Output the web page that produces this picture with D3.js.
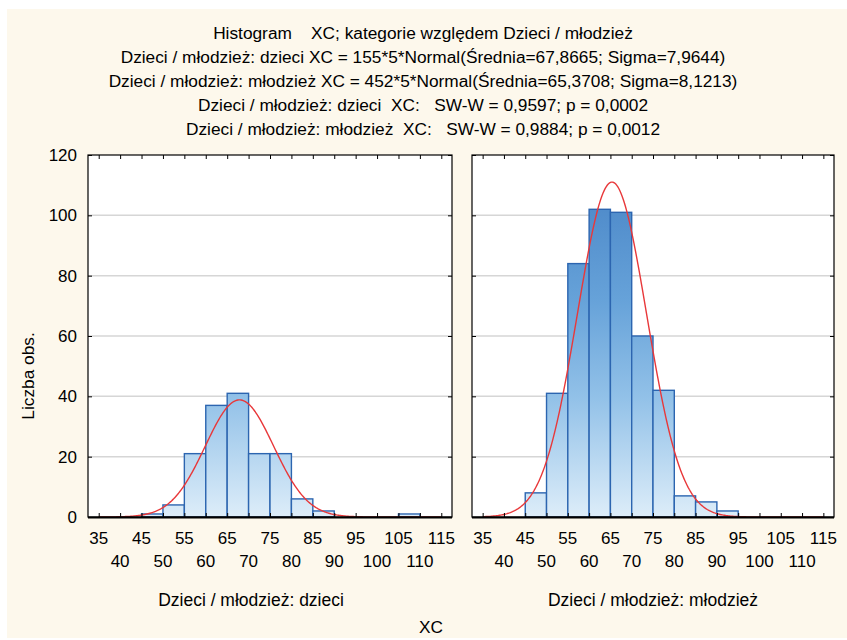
<!DOCTYPE html>
<html>
<head>
<meta charset="utf-8">
<script src="https://cdn.jsdelivr.net/npm/d3@7"></script>
<style>
  body { margin: 0; background: #ffffff; }
  text { font-family: Arial, "Liberation Sans", sans-serif; fill: #000; white-space: pre; }
</style>
</head>
<body>
<div id="chart"></div>
<script>

// chart data
var titleLines = [
  "Histogram    XC; kategorie względem Dzieci / młodzież",
  "Dzieci / młodzież: dzieci XC = 155*5*Normal(Średnia=67,8665; Sigma=7,9644)",
  "Dzieci / młodzież: młodzież XC = 452*5*Normal(Średnia=65,3708; Sigma=8,1213)",
  "Dzieci / młodzież: dzieci  XC:   SW-W = 0,9597; p = 0,0002",
  "Dzieci / młodzież: młodzież  XC:   SW-W = 0,9884; p = 0,0012"
];
var binStarts = [35, 40, 45, 50, 55, 60, 65, 70, 75, 80, 85, 90, 95, 100, 105, 110];
var countsDzieci = [0, 0, 1, 4, 21, 37, 41, 21, 21, 6, 2, 0, 0, 0, 1, 0];
var countsMlodziez = [0, 0, 8, 41, 84, 102, 101, 60, 42, 7, 5, 2, 0, 0, 0, 0];
var panelNames = ["Dzieci / młodzież: dzieci", "Dzieci / młodzież: młodzież"];
var panelN = [155, 452];
var panelMean = [67.8665, 65.3708];
var panelSigma = [7.9644, 8.1213];
var xTicks = [35, 40, 45, 50, 55, 60, 65, 70, 75, 80, 85, 90, 95, 100, 105, 110, 115];
var yTicks = [0, 20, 40, 60, 80, 100, 120];
var binWidth = 5;

var width = 847, height = 640;

var svg = d3.select("#chart")
  .append("svg")
    .attr("width", width)
    .attr("height", height);

// cream background
svg.append("rect")
  .attr("x", 7).attr("y", 9)
  .attr("width", width - 7).attr("height", height - 11)
  .attr("fill", "#fdf8ec");

// bar gradient, fixed to the plot height
var defs = svg.append("defs");
var grad = defs.append("linearGradient")
  .attr("id", "barGrad")
  .attr("gradientUnits", "userSpaceOnUse")
  .attr("x1", 0).attr("x2", 0)
  .attr("y1", 155).attr("y2", 517);
grad.append("stop").attr("offset", 0).attr("stop-color", "#4480c3");
grad.append("stop").attr("offset", 0.4).attr("stop-color", "#66a2d9");
grad.append("stop").attr("offset", 0.67).attr("stop-color", "#92c1e8");
grad.append("stop").attr("offset", 1).attr("stop-color", "#ddedf9");

// titles
svg.append("g")
  .selectAll("text")
  .data(titleLines)
  .enter()
  .append("text")
    .attr("x", 423)
    .attr("y", function(d, i) { return 38.5 + i * 24; })
    .attr("text-anchor", "middle")
    .style("font-size", "17.3px")
    .text(function(d) { return d; });

var y_scale = d3.scaleLinear()
  .domain([0, 120])
  .range([517, 155]);

var panels = [
  {left: 88, right: 452, counts: countsDzieci, labelX: 251},
  {left: 472, right: 834, counts: countsMlodziez, labelX: 653}
];

panels.forEach(function(p, k) {

  var x_scale = d3.scaleLinear()
    .domain([32.5, 117.5])
    .range([p.left, p.right]);

  var g = svg.append("g");

  // white plot area
  g.append("rect")
    .attr("x", p.left).attr("y", 155)
    .attr("width", p.right - p.left).attr("height", 517 - 155)
    .attr("fill", "#ffffff");

  // grid lines
  g.append("g")
    .selectAll("line")
    .data(yTicks.filter(function(d) { return d > 0 && d < 120; }))
    .enter()
    .append("line")
      .attr("x1", p.left).attr("x2", p.right)
      .attr("y1", function(d) { return y_scale(d); })
      .attr("y2", function(d) { return y_scale(d); })
      .attr("stroke", "#d6d6d6")
      .attr("stroke-width", 1.5);

  // bars
  var bins = binStarts.map(function(b, i) { return {x0: b, n: p.counts[i]}; })
                      .filter(function(d) { return d.n > 0; });
  g.append("g")
    .selectAll("rect")
    .data(bins)
    .enter()
    .append("rect")
      .attr("x", function(d) { return x_scale(d.x0); })
      .attr("y", function(d) { return y_scale(d.n); })
      .attr("width", function(d) { return x_scale(d.x0 + binWidth) - x_scale(d.x0); })
      .attr("height", function(d) { return y_scale(0) - y_scale(d.n); })
      .attr("fill", "url(#barGrad)")
      .attr("stroke", "#2c65b0")
      .attr("stroke-width", 1.4);

  // fitted normal curve
  var pts = d3.range(35, 115.01, 0.25);
  var line = d3.line()
    .x(function(d) { return x_scale(d); })
    .y(function(d) {
      var z = (d - panelMean[k]) / panelSigma[k];
      var v = panelN[k] * binWidth * Math.exp(-0.5 * z * z) / (panelSigma[k] * Math.sqrt(2 * Math.PI));
      return y_scale(v);
    });
  g.append("path")
    .datum(pts)
    .attr("d", line)
    .attr("fill", "none")
    .attr("stroke", "#e8383a")
    .attr("stroke-width", 1.4);

  // frame
  g.append("rect")
    .attr("x", p.left).attr("y", 155)
    .attr("width", p.right - p.left).attr("height", 517 - 155)
    .attr("fill", "none")
    .attr("stroke", "#000")
    .attr("stroke-width", 1.2);
  g.append("line")
    .attr("x1", p.left).attr("x2", p.right)
    .attr("y1", 517.5).attr("y2", 517.5)
    .attr("stroke", "#000")
    .attr("stroke-width", 2);

  // inward ticks: bottom and top
  g.append("g")
    .attr("transform", "translate(0,517)")
    .call(d3.axisTop(x_scale).tickValues(xTicks).tickSize(4).tickSizeOuter(0).tickFormat(""))
    .call(function(a) { a.select(".domain").remove(); });
  g.append("g")
    .attr("transform", "translate(0,155)")
    .call(d3.axisBottom(x_scale).tickValues(xTicks).tickSize(4).tickSizeOuter(0).tickFormat(""))
    .call(function(a) { a.select(".domain").remove(); });

  // inward ticks: left and right
  g.append("g")
    .attr("transform", "translate(" + p.left + ",0)")
    .call(d3.axisRight(y_scale).tickValues(yTicks).tickSize(4).tickSizeOuter(0).tickFormat(""))
    .call(function(a) { a.select(".domain").remove(); });
  g.append("g")
    .attr("transform", "translate(" + p.right + ",0)")
    .call(d3.axisLeft(y_scale).tickValues(yTicks).tickSize(4).tickSizeOuter(0).tickFormat(""))
    .call(function(a) { a.select(".domain").remove(); });

  // x tick labels in two staggered rows
  g.append("g")
    .selectAll("text")
    .data(xTicks)
    .enter()
    .append("text")
      .attr("x", function(d) { return x_scale(d); })
      .attr("y", function(d, i) { return i % 2 == 0 ? 543.5 : 566.5; })
      .attr("text-anchor", "middle")
      .style("font-size", "17px")
      .text(function(d) { return d; });

  // panel label
  g.append("text")
    .attr("x", p.labelX)
    .attr("y", 606)
    .attr("text-anchor", "middle")
    .style("font-size", "17.5px")
    .text(panelNames[k]);

  // y tick labels only on first panel
  if (k == 0) {
    g.append("g")
      .selectAll("text")
      .data(yTicks)
      .enter()
      .append("text")
        .attr("x", 77)
        .attr("y", function(d) { return y_scale(d) + 6; })
        .attr("text-anchor", "end")
        .style("font-size", "17px")
        .text(function(d) { return d; });
  }
});

// axis titles
svg.append("text")
  .attr("transform", "translate(34,376) rotate(-90)")
  .attr("text-anchor", "middle")
  .style("font-size", "17.3px")
  .text("Liczba obs.");

svg.append("text")
  .attr("x", 431)
  .attr("y", 633)
  .attr("text-anchor", "middle")
  .style("font-size", "17.3px")
  .text("XC");

</script>
</body>
</html>
